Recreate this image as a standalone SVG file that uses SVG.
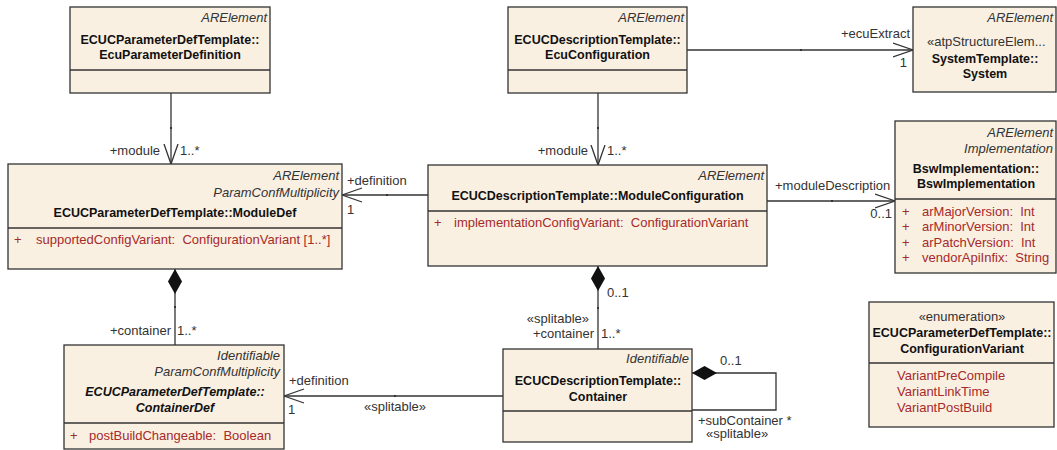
<svg xmlns="http://www.w3.org/2000/svg" width="1057" height="450" viewBox="0 0 1057 450">
<defs>
<style>
.box{fill:#FAF0E2;stroke:#333;stroke-width:1.3}
.dv{stroke:#333;stroke-width:1.3}
.st{font-family:"Liberation Sans",Arial,sans-serif;font-size:13px;font-style:italic;fill:#333;text-anchor:end}
.ttl{font-family:"Liberation Sans",Arial,sans-serif;font-size:12.5px;font-weight:bold;fill:#111;text-anchor:middle}
.attr{font-family:"Liberation Sans",Arial,sans-serif;font-size:13px;fill:#A52A2A}
.lbl{font-family:"Liberation Sans",Arial,sans-serif;font-size:13px;fill:#333}
.end{text-anchor:end}
.mid{text-anchor:middle}
.conn{stroke:#333;stroke-width:1.3;fill:none}
.dot{fill:#333}
</style>
<marker id="open" markerWidth="22" markerHeight="16" refX="20.5" refY="8" orient="auto" markerUnits="userSpaceOnUse" viewBox="0 0 22 16"><path d="M0.5,1 L20.5,8 L0.5,15" fill="none" stroke="#333" stroke-width="1.3"/></marker>
<marker id="diamond" markerWidth="27" markerHeight="16" refX="0.5" refY="8" orient="auto" markerUnits="userSpaceOnUse" viewBox="0 0 27 16"><path d="M0.5,8 L13,1 L25.5,8 L13,15 Z" fill="#111"/></marker>
</defs>
<rect width="1057" height="450" fill="#fff"/>

<g id="connectors">
<path class="conn" d="M171,93 V164" marker-end="url(#open)"/>
<path class="conn" d="M598,93 V165" marker-end="url(#open)"/>
<path class="conn" d="M687,50 H913" marker-end="url(#open)"/>
<path class="conn" d="M428,195 H342" marker-end="url(#open)"/>
<path class="conn" d="M767,201 H895" marker-end="url(#open)"/>
<path class="conn" d="M175,269 V345" marker-start="url(#diamond)"/>
<path class="conn" d="M598,266 V349" marker-start="url(#diamond)"/>
<path class="conn" d="M503,396 H284" marker-end="url(#open)"/>
<path class="conn" d="M692,373 H776 V410 H692" marker-start="url(#diamond)"/>
<rect class="dot" x="170" y="127" width="2" height="2"/>
<rect class="dot" x="597" y="127" width="2" height="2"/>
<rect class="dot" x="800" y="49" width="2" height="2"/>
<rect class="dot" x="386" y="194" width="2" height="2"/>
<rect class="dot" x="831" y="200" width="2" height="2"/>
<rect class="dot" x="174" y="306" width="2" height="2"/>
<rect class="dot" x="597" y="307" width="2" height="2"/>
<rect class="dot" x="394" y="395" width="2" height="2"/>
<text class="lbl end" x="160" y="155">+module</text>
<text class="lbl" x="180" y="155">1..*</text>
<text class="lbl end" x="588" y="155">+module</text>
<text class="lbl" x="607" y="155">1..*</text>
<text class="lbl end" x="910" y="38">+ecuExtract</text>
<text class="lbl end" x="907" y="67">1</text>
<text class="lbl" x="347" y="185">+definition</text>
<text class="lbl" x="347" y="214">1</text>
<text class="lbl" x="775" y="190">+moduleDescription</text>
<text class="lbl end" x="892" y="218">0..1</text>
<text class="lbl end" x="171" y="335">+container</text>
<text class="lbl" x="177" y="335">1..*</text>
<text class="lbl" x="607" y="297">0..1</text>
<text class="lbl end" x="589" y="323">«splitable»</text>
<text class="lbl end" x="594" y="338">+container</text>
<text class="lbl" x="601" y="338">1..*</text>
<text class="lbl" x="289" y="385">+definition</text>
<text class="lbl" x="288" y="414">1</text>
<text class="lbl mid" x="395" y="411">«splitable»</text>
<text class="lbl" x="720" y="365">0..1</text>
<text class="lbl" x="698" y="425">+subContainer *</text>
<text class="lbl" x="706" y="438">«splitable»</text>
</g>

<g id="EcuParameterDefinition">
<rect class="box" x="70" y="7" width="200" height="86"/>
<line class="dv" x1="70" y1="70" x2="270" y2="70"/>
<text class="st" x="267" y="22">ARElement</text>
<text class="ttl" x="170" y="44">ECUCParameterDefTemplate::</text>
<text class="ttl" x="170" y="59">EcuParameterDefinition</text>
</g>

<g id="EcuConfiguration">
<rect class="box" x="508" y="7" width="179" height="86"/>
<line class="dv" x1="508" y1="70" x2="687" y2="70"/>
<text class="st" x="684" y="22">ARElement</text>
<text class="ttl" x="597.5" y="44">ECUCDescriptionTemplate::</text>
<text class="ttl" x="597.5" y="59">EcuConfiguration</text>
</g>

<g id="System">
<rect class="box" x="913" y="7" width="143" height="85"/>
<text class="st" x="1053" y="22">ARElement</text>
<text class="lbl" x="927" y="46">«atpStructureElem...</text>
<text class="ttl" x="985" y="63">SystemTemplate::</text>
<text class="ttl" x="985" y="78">System</text>
</g>

<g id="ModuleDef">
<rect class="box" x="8" y="164" width="334" height="105"/>
<line class="dv" x1="8" y1="228" x2="342" y2="228"/>
<text class="st" x="339" y="180">ARElement</text>
<text class="st" x="339" y="197">ParamConfMultiplicity</text>
<text class="ttl" x="175" y="217">ECUCParameterDefTemplate::ModuleDef</text>
<text class="attr" x="14" y="244">+</text>
<text class="attr" x="36" y="244" xml:space="preserve">supportedConfigVariant:  ConfigurationVariant [1..*]</text>
</g>

<g id="ModuleConfiguration">
<rect class="box" x="428" y="165" width="339" height="101"/>
<line class="dv" x1="428" y1="211" x2="767" y2="211"/>
<text class="st" x="764" y="180">ARElement</text>
<text class="ttl" x="597.5" y="200">ECUCDescriptionTemplate::ModuleConfiguration</text>
<text class="attr" x="434" y="227">+</text>
<text class="attr" x="454" y="227" xml:space="preserve">implementationConfigVariant:  ConfigurationVariant</text>
</g>

<g id="BswImplementation">
<rect class="box" x="895" y="121" width="161" height="152"/>
<line class="dv" x1="895" y1="199" x2="1056" y2="199"/>
<text class="st" x="1053" y="137">ARElement</text>
<text class="st" x="1053" y="153">Implementation</text>
<text class="ttl" x="976" y="173">BswImplementation::</text>
<text class="ttl" x="976" y="188">BswImplementation</text>
<text class="attr" x="902" y="216">+</text>
<text class="attr" x="922" y="216" xml:space="preserve">arMajorVersion:  Int</text>
<text class="attr" x="902" y="231">+</text>
<text class="attr" x="922" y="231" xml:space="preserve">arMinorVersion:  Int</text>
<text class="attr" x="902" y="247">+</text>
<text class="attr" x="922" y="247" xml:space="preserve">arPatchVersion:  Int</text>
<text class="attr" x="902" y="262">+</text>
<text class="attr" x="922" y="262" xml:space="preserve">vendorApiInfix:  String</text>
</g>

<g id="ContainerDef">
<rect class="box" x="64" y="345" width="220" height="104"/>
<line class="dv" x1="64" y1="423" x2="284" y2="423"/>
<text class="st" x="280" y="360">Identifiable</text>
<text class="st" x="280" y="376">ParamConfMultiplicity</text>
<text class="ttl" x="175" y="396" font-style="italic">ECUCParameterDefTemplate::</text>
<text class="ttl" x="175" y="412" font-style="italic">ContainerDef</text>
<text class="attr" x="70" y="440">+</text>
<text class="attr" x="89" y="440" xml:space="preserve">postBuildChangeable:  Boolean</text>
</g>

<g id="Container">
<rect class="box" x="503" y="349" width="189" height="93"/>
<line class="dv" x1="503" y1="411" x2="692" y2="411"/>
<text class="st" x="689" y="363">Identifiable</text>
<text class="ttl" x="598" y="385">ECUCDescriptionTemplate::</text>
<text class="ttl" x="598" y="401">Container</text>
</g>

<g id="ConfigurationVariant">
<rect class="box" x="869" y="302" width="185" height="125"/>
<line class="dv" x1="869" y1="363" x2="1054" y2="363"/>
<text class="lbl mid" x="962" y="321">«enumeration»</text>
<text class="ttl" x="962" y="337">ECUCParameterDefTemplate::</text>
<text class="ttl" x="962" y="353">ConfigurationVariant</text>
<text class="attr" x="897" y="380">VariantPreCompile</text>
<text class="attr" x="897" y="396">VariantLinkTime</text>
<text class="attr" x="897" y="412">VariantPostBuild</text>
</g>
</svg>
